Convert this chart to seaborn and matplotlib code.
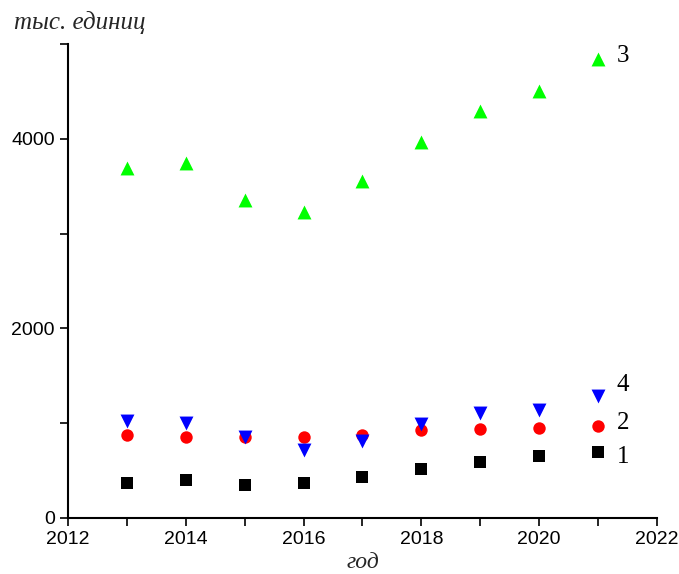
import numpy as np
import pandas as pd
import matplotlib
matplotlib.use("Agg")
import matplotlib.pyplot as plt
from matplotlib.ticker import MultipleLocator
import seaborn as sns

years = [2013, 2014, 2015, 2016, 2017, 2018, 2019, 2020, 2021]
series_1 = [366, 398, 349, 366, 436, 514, 592, 652, 700]
series_2 = [877, 852, 852, 855, 880, 930, 937, 951, 975]
series_3 = [3690, 3740, 3352, 3231, 3552, 3964, 4292, 4503, 4839]
series_4 = [1023, 1002, 851, 713, 815, 988, 1111, 1143, 1289]
series_names = ["1", "2", "3", "4"]

frames = []
for name, vals in zip(series_names, [series_1, series_2, series_3, series_4]):
    frames.append(pd.DataFrame({"year": years, "value": vals, "series": name}))
df = pd.concat(frames, ignore_index=True)

sns.set_theme(style="ticks")
plt.rcParams["font.family"] = ["Liberation Sans", "DejaVu Sans"]

fig = plt.figure(figsize=(6.79, 5.74), dpi=100)
ax = fig.add_axes([0.1001, 0.0976, 0.8675, 0.8257])

palette = {"1": "#000000", "2": "#ff0000", "3": "#00ff00", "4": "#0000ff"}
markers = {"1": "s", "2": "o", "3": "^", "4": "v"}
sizes = {"1": 64, "2": 80, "3": 100, "4": 100}

for name in series_names:
    sub = df[df["series"] == name]
    sns.scatterplot(data=sub, x="year", y="value", ax=ax, color=palette[name],
                    marker=markers[name], s=sizes[name], linewidth=0,
                    legend=False, zorder=3)

# series numbers beside the last points
label_font = dict(family="Liberation Serif", fontsize=18, color="black",
                  va="center", ha="left")
ax.text(2021.32, series_3[-1] + 30, "3", **label_font)
ax.text(2021.32, 1405, "4", **label_font)
ax.text(2021.32, 1004, "2", **label_font)
ax.text(2021.32, 645, "1", **label_font)

ax.set_xlim(2012, 2022)
ax.set_ylim(0, 5000)
ax.xaxis.set_major_locator(MultipleLocator(2))
ax.xaxis.set_minor_locator(MultipleLocator(1))
ax.yaxis.set_major_locator(MultipleLocator(2000))
ax.yaxis.set_minor_locator(MultipleLocator(1000))

for side in ("top", "right"):
    ax.spines[side].set_visible(False)
for side in ("left", "bottom"):
    ax.spines[side].set_linewidth(1.5)
    ax.spines[side].set_color("black")

ax.tick_params(which="both", direction="out", length=6, width=1.2,
               color="black", labelsize=14, labelcolor="black")
ax.tick_params(which="minor", length=5.5)

ax.set_xlabel("год", fontfamily="Liberation Serif", fontstyle="italic",
              fontsize=17, labelpad=3)
ax.set_ylabel("")
fig.text(0.020, 0.960, "тыс. единиц", fontfamily="Liberation Serif",
         fontstyle="italic", fontsize=18, ha="left", va="center")

fig.savefig("out.png", dpi=100, facecolor="white")
